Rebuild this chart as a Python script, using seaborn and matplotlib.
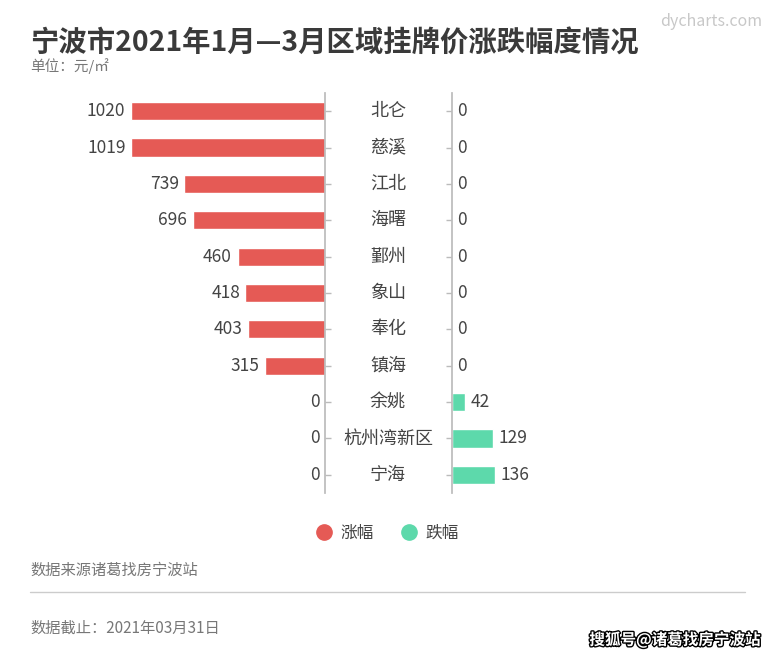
import matplotlib
matplotlib.use("Agg")
import matplotlib.pyplot as plt
import matplotlib.transforms as mtransforms
import matplotlib.patheffects as pe
from matplotlib.lines import Line2D
import seaborn as sns

categories = ['北仑', '慈溪', '江北', '海曙', '鄞州', '象山', '奉化', '镇海', '余姚', '杭州湾新区', '宁海']
rise = [1020, 1019, 739, 696, 460, 418, 403, 315, 0, 0, 0]
fall = [0, 0, 0, 0, 0, 0, 0, 0, 42, 129, 136]
series_names = ['涨幅', '跌幅']

RED = '#E55A55'
GREEN = '#5DD9AB'
AXIS_GRAY = '#BBBBBB'
TXT = '#444444'

sns.set_theme(style='white')
plt.rcParams['font.family'] = ['Noto Sans CJK SC', 'DejaVu Sans']

W, H = 775, 658
fig = plt.figure(figsize=(W / 100, H / 100), dpi=100)

def box(x0, x1, y0, y1):
    return [x0 / W, 1 - y1 / H, (x1 - x0) / W, (y1 - y0) / H]

axL = fig.add_axes(box(30, 325, 93, 493))
axR = fig.add_axes(box(452, 745, 93, 493))

sns.barplot(x=rise, y=categories, ax=axL, color=RED, width=0.5, orient='h', saturation=1)
sns.barplot(x=fall, y=categories, ax=axR, color=GREEN, width=0.5, orient='h', saturation=1)

axL.set_xlim(1020 * 295 / 194, 0)
axR.set_xlim(0, 293 / 0.316)
for ax in (axL, axR):
    ax.set_ylim(10.5, -0.5)
    ax.set_xlabel('')
    ax.set_ylabel('')
    ax.set_xticks([])
    for s in ax.spines.values():
        s.set_visible(False)

axL.spines['right'].set_visible(True)
axL.spines['right'].set_color(AXIS_GRAY)
axL.yaxis.tick_right()
axR.spines['left'].set_visible(True)
axR.spines['left'].set_color(AXIS_GRAY)
axR.yaxis.tick_left()
for ax in (axL, axR):
    ax.tick_params(axis='y', length=4, width=1, color=AXIS_GRAY, direction='out', labelleft=False, labelright=False)

for i, v in enumerate(rise):
    axL.annotate(str(v), (v, i), xytext=(-4, 0), textcoords='offset points',
                 ha='right', va='center', fontsize=12.5, color=TXT)
for i, v in enumerate(fall):
    axR.annotate(str(v), (v, i), xytext=(4, 0), textcoords='offset points',
                 ha='left', va='center', fontsize=12.5, color=TXT)

trans = mtransforms.blended_transform_factory(fig.transFigure, axL.transData)
for i, c in enumerate(categories):
    fig.text(388 / W, i, c, transform=trans, ha='center', va='center', fontsize=13, color=TXT)

# titles
fig.text(30 / W, 1 - 44 / H, '宁波市2021年1月—3月区域挂牌价涨跌幅度情况', fontsize=20.4,
         fontweight='bold', color='#3A3A3A', ha='left', va='center')
fig.text(30 / W, 1 - 66 / H, '单位：元/㎡', fontsize=10.5, color='#777777', ha='left', va='center')
fig.text(762 / W, 1 - 22 / H, 'dycharts.com', fontsize=11.5, color='#C8C8C8', ha='right', va='center')

handles = [Line2D([], [], marker='o', linestyle='', markersize=11, color=c) for c in (RED, GREEN)]
fig.legend(handles, series_names, loc='center', bbox_to_anchor=(0.5, 1 - 533 / H), ncol=2,
           frameon=False, fontsize=12, handlelength=1.0, handletextpad=0.5,
           columnspacing=1.6, labelcolor=TXT)

# footer
fig.text(30 / W, 1 - 570 / H, '数据来源诸葛找房宁波站', fontsize=11, color='#777777', ha='left', va='center')
fig.add_artist(Line2D([30 / W, 745 / W], [1 - 592 / H] * 2, color='#CCCCCC', lw=1))
fig.text(30 / W, 1 - 628 / H, '数据截止：2021年03月31日', fontsize=11, color='#777777', ha='left', va='center')
fig.text(760 / W, 1 - 640 / H, '搜狐号@诸葛找房宁波站', fontsize=11.2, fontweight='bold', color='white',
         ha='right', va='center', path_effects=[pe.withStroke(linewidth=2, foreground='black')])

fig.savefig('out.png', dpi=100)
